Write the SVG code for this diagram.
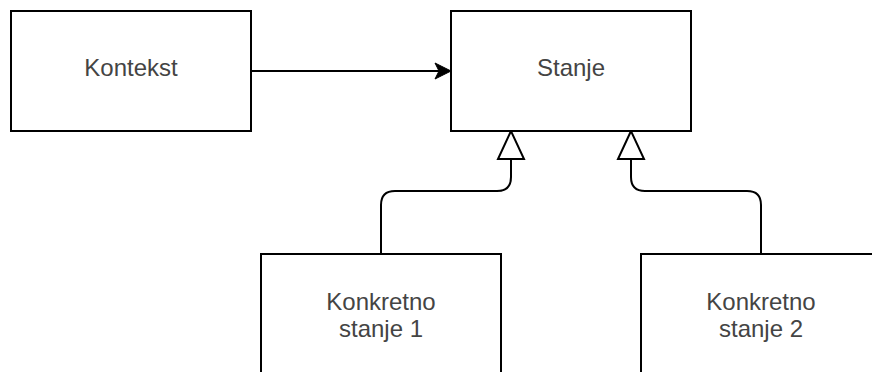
<svg xmlns="http://www.w3.org/2000/svg" width="872" height="372" viewBox="0 0 872 372">
  <style>
    .box { fill: #ffffff; stroke: #000000; stroke-width: 2; }
    .lbl { font-family: "Liberation Sans", Arial, sans-serif; font-size: 24px; fill: #444444; text-anchor: middle; }
    .edge { fill: none; stroke: #000000; stroke-width: 2; }
  </style>
  <rect width="872" height="372" fill="#ffffff"/>
  <g id="connectors">
    <path class="edge" d="M251,71 L440,71"/>
    <path d="M451,71 L435,63 L439,71 L435,79 Z" fill="#000000" stroke="#000000" stroke-width="1"/>
    <path class="edge" d="M381,254 L381,205 Q381,191 395,191 L497,191 Q511,191 511,177 L511,159"/>
    <path class="edge" d="M761,254 L761,205 Q761,191 747,191 L645,191 Q631,191 631,177 L631,159"/>
    <path d="M511,131 L498,159 L524,159 Z" fill="#ffffff" stroke="#000000" stroke-width="2"/>
    <path d="M631,131 L618,159 L644,159 Z" fill="#ffffff" stroke="#000000" stroke-width="2"/>
  </g>
  <g id="kontekst">
    <rect class="box" x="11" y="11" width="240" height="120"/>
    <text class="lbl" x="131" y="76">Kontekst</text>
  </g>
  <g id="stanje">
    <rect class="box" x="451" y="11" width="240" height="120"/>
    <text class="lbl" x="571" y="76">Stanje</text>
  </g>
  <g id="konkretno1">
    <rect class="box" x="261" y="254" width="240" height="130"/>
    <text class="lbl" x="381" y="310">Konkretno</text>
    <text class="lbl" x="381" y="337">stanje 1</text>
  </g>
  <g id="konkretno2">
    <rect class="box" x="641" y="254" width="240" height="130"/>
    <text class="lbl" x="761" y="310">Konkretno</text>
    <text class="lbl" x="761" y="337">stanje 2</text>
  </g>
</svg>
